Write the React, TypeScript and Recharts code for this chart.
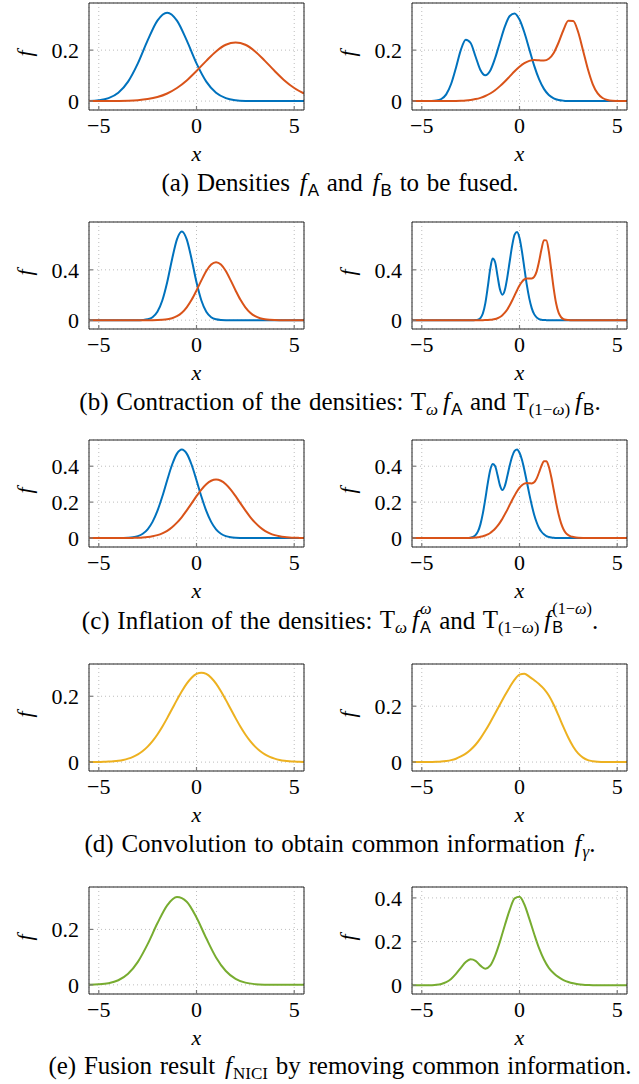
import { LineChart, Line, XAxis, YAxis, CartesianGrid } from "recharts";

// x grids
const xWide = [-5.5, -5, -4.5, -4, -3.5, -3, -2.5, -2, -1.5, -1, -0.5, 0, 0.5, 1, 1.5, 2, 2.5, 3, 3.5, 4, 4.5, 5, 5.5];
const xFine = [
  -5.5, -5.25, -5, -4.75, -4.5, -4.25, -4, -3.75, -3.5, -3.25, -3, -2.75, -2.5, -2.25, -2, -1.75, -1.5, -1.25, -1, -0.75,
  -0.5, -0.25, 0, 0.25, 0.5, 0.75, 1, 1.25, 1.5, 1.75, 2, 2.25, 2.5, 2.75, 3, 3.25, 3.5, 3.75, 4, 4.25, 4.5, 4.75, 5,
  5.25, 5.5,
];
const xNarrow = [
  -5.5, -5, -4.5, -4, -3.5, -3, -2.75, -2.625, -2.5, -2.375, -2.25, -2.125, -2, -1.875, -1.75, -1.625, -1.5, -1.375,
  -1.25, -1.125, -1, -0.875, -0.75, -0.625, -0.5, -0.375, -0.25, -0.125, 0, 0.125, 0.25, 0.375, 0.5, 0.625, 0.75, 0.875,
  1, 1.125, 1.25, 1.375, 1.5, 1.625, 1.75, 1.875, 2, 2.125, 2.25, 2.375, 2.5, 2.625, 2.75, 3, 3.5, 4, 4.5, 5, 5.5,
];
const xTicks = [-5, 0, 5];

// (a) densities to be fused
const aLeftA = [0.0008, 0.0034, 0.0116, 0.0327, 0.0765, 0.148, 0.238, 0.316, 0.347, 0.316, 0.238, 0.148, 0.0765, 0.0327, 0.0116, 0.0034, 0.0008, 0.0002, 0, 0, 0, 0, 0];
const aLeftB = [0, 0.0001, 0.0002, 0.0006, 0.0015, 0.0035, 0.0078, 0.0159, 0.0298, 0.0513, 0.081, 0.118, 0.158, 0.195, 0.221, 0.23, 0.221, 0.195, 0.158, 0.118, 0.081, 0.0513, 0.0298];
const aRightA = [
  0, 0, 0, 0.0001, 0.0004, 0.002, 0.0082, 0.0265, 0.067, 0.131, 0.201, 0.241, 0.228, 0.175, 0.122, 0.101, 0.119, 0.168,
  0.231, 0.292, 0.334, 0.344, 0.32, 0.269, 0.204, 0.139, 0.086, 0.048, 0.024, 0.011, 0.0045, 0.0017, 0.0006, 0.0002, 0,
  0, 0, 0, 0, 0, 0, 0, 0, 0, 0,
];
const aRightB = [
  0, 0, 0, 0, 0, 0, 0.0001, 0.0002, 0.0003, 0.0007, 0.0014, 0.0026, 0.0046, 0.0078, 0.0127, 0.0199, 0.0298, 0.0427,
  0.0587, 0.0771, 0.097, 0.117, 0.135, 0.149, 0.158, 0.161, 0.16, 0.159, 0.166, 0.189, 0.23, 0.279, 0.315, 0.314, 0.271,
  0.199, 0.125, 0.066, 0.03, 0.012, 0.0042, 0.0013, 0.0005, 0.0002, 0.0001,
];

// (b) contraction
const bLeftA = [
  0, 0, 0, 0, 0, 0, 0, 0, 0, 0, 0, 0.0016, 0.0069, 0.0236, 0.0665, 0.156, 0.301, 0.484, 0.642, 0.705, 0.642, 0.484,
  0.301, 0.156, 0.0665, 0.0236, 0.0069, 0.0016, 0.0003, 0, 0, 0, 0, 0, 0, 0, 0, 0, 0, 0, 0, 0, 0, 0, 0,
];
const bLeftB = [
  0, 0, 0, 0, 0, 0, 0, 0, 0, 0, 0, 0, 0.0001, 0.0004, 0.0012, 0.003, 0.007, 0.0156, 0.0318, 0.0596, 0.1026, 0.162, 0.236,
  0.316, 0.39, 0.442, 0.46, 0.442, 0.39, 0.316, 0.236, 0.162, 0.1026, 0.0596, 0.0318, 0.0156, 0.007, 0.003, 0.0012,
  0.0004, 0.0001, 0, 0, 0, 0,
];
const bRightA = [
  0, 0, 0, 0, 0, 0,
  0, 0, 0, 0.0002, 0.0008, 0.004, 0.0164, 0.053, 0.134, 0.262, 0.405, 0.49, 0.462, 0.352, 0.245, 0.203, 0.24, 0.34,
  0.468, 0.592, 0.68, 0.7, 0.652, 0.546, 0.412, 0.28, 0.173, 0.096, 0.048, 0.022, 0.009, 0.0034, 0.0012, 0.0004, 0, 0, 0,
  0, 0, 0, 0, 0, 0, 0, 0,
  0, 0, 0, 0, 0, 0,
];
const bRightB = [
  0, 0, 0, 0, 0, 0,
  0, 0, 0, 0, 0, 0, 0.0002, 0.0004, 0.0006, 0.0014, 0.0028, 0.0052, 0.0092, 0.0156, 0.0254, 0.0398, 0.0596, 0.0854,
  0.118, 0.156, 0.197, 0.238, 0.276, 0.305, 0.324, 0.332, 0.332, 0.332, 0.344, 0.386, 0.466, 0.563, 0.636, 0.634, 0.546,
  0.4, 0.251, 0.132, 0.06, 0.024, 0.0084, 0.0026, 0.001, 0.0004, 0.0002,
  0, 0, 0, 0, 0, 0,
];

// (c) inflation
const cLeftA = [
  0, 0, 0, 0, 0, 0, 0.0001, 0.0005, 0.0016, 0.0043, 0.0107, 0.0239, 0.0486, 0.0899, 0.151, 0.231, 0.322, 0.408, 0.47,
  0.493, 0.47, 0.408, 0.322, 0.231, 0.151, 0.0899, 0.0486, 0.0239, 0.0107, 0.0043, 0.0016, 0.0005, 0.0001, 0, 0, 0, 0, 0,
  0, 0, 0, 0, 0, 0, 0,
];
const cLeftB = [
  0, 0, 0, 0, 0, 0, 0.0001, 0.0002, 0.0004, 0.0008, 0.0015, 0.003, 0.0054, 0.0096, 0.0161, 0.026, 0.0403, 0.06, 0.0856,
  0.117, 0.154, 0.193, 0.233, 0.27, 0.3, 0.319, 0.326, 0.319, 0.3, 0.27, 0.233, 0.193, 0.154, 0.117, 0.0856, 0.06, 0.0403,
  0.026, 0.0161, 0.0096, 0.0054, 0.003, 0.0015, 0.0008, 0.0004,
];
const cRightA = [
  0, 0, 0, 0, 0, 0,
  0, 0.0006, 0.002, 0.006, 0.016, 0.037, 0.076, 0.137, 0.217, 0.304, 0.377, 0.412, 0.401, 0.351, 0.293, 0.267, 0.29,
  0.344, 0.404, 0.454, 0.485, 0.493, 0.475, 0.436, 0.379, 0.313, 0.246, 0.184, 0.13, 0.088, 0.056, 0.035, 0.021, 0.011,
  0.006, 0.003, 0.001, 0, 0, 0, 0, 0, 0, 0, 0,
  0, 0, 0, 0, 0, 0,
];
const cRightB = [
  0, 0, 0, 0, 0, 0,
  0.0004, 0.0007, 0.001, 0.002, 0.003, 0.004, 0.007, 0.01, 0.014, 0.02, 0.028, 0.039, 0.052, 0.067, 0.086, 0.107, 0.132,
  0.157, 0.185, 0.212, 0.237, 0.261, 0.28, 0.294, 0.303, 0.306, 0.305, 0.304, 0.31, 0.331, 0.365, 0.402, 0.428, 0.427,
  0.397, 0.34, 0.269, 0.196, 0.132, 0.083, 0.049, 0.027, 0.016, 0.009, 0.006,
  0.002, 0, 0, 0, 0, 0,
];

// (d) common information
const dLeft = [
  0.0001, 0.0002, 0.0005, 0.0008, 0.0015, 0.0025, 0.0041, 0.0067, 0.0105, 0.0159, 0.0235, 0.0338, 0.0471, 0.0638, 0.084,
  0.1075, 0.1336, 0.1613, 0.189, 0.2154, 0.2384, 0.2563, 0.2677, 0.2716, 0.2677, 0.2563, 0.2384, 0.2154, 0.189, 0.1613,
  0.1336, 0.1075, 0.084, 0.0638, 0.0471, 0.0338, 0.0235, 0.0159, 0.0105, 0.0067, 0.0041, 0.0025, 0.0015, 0.0008, 0.0005,
];
const dRight = [
  0, 0, 0, 0.0002, 0.0005, 0.001, 0.002, 0.004, 0.007, 0.012, 0.02, 0.03, 0.044, 0.062, 0.085, 0.112, 0.142, 0.174,
  0.206, 0.238, 0.268, 0.295, 0.313, 0.316, 0.306, 0.293, 0.279, 0.262, 0.238, 0.205, 0.166, 0.125, 0.087, 0.055, 0.031,
  0.016, 0.007, 0.003, 0.001, 0.0004, 0, 0, 0, 0, 0,
];

// (e) fusion result
const eLeft = [0.0005, 0.0018, 0.0059, 0.0166, 0.04, 0.083, 0.147, 0.222, 0.287, 0.317, 0.3, 0.243, 0.168, 0.099, 0.05, 0.0216, 0.008, 0.0025, 0.0007, 0.0002, 0, 0, 0];
const eRight = [
  0, 0, 0, 0, 0.0005, 0.002, 0.006, 0.014, 0.029, 0.052, 0.08, 0.106, 0.119, 0.112, 0.09, 0.076, 0.09, 0.135, 0.2, 0.275,
  0.345, 0.398, 0.405, 0.37, 0.305, 0.235, 0.17, 0.118, 0.08, 0.055, 0.037, 0.024, 0.015, 0.009, 0.005, 0.0025, 0.001, 0,
  0, 0, 0, 0, 0, 0, 0,
];

const BLUE = "#0072bd";
const ORANGE = "#d95319";
const YELLOW = "#edb120";
const GREEN = "#77ac30";

const SERIF = '"Liberation Serif", "Times New Roman", serif';
const SANS = '"Liberation Sans", Arial, sans-serif';
const AXIS_FONT = 22;

function zip(xs: number[], a: number[], b?: number[]) {
  return xs.map((x, i) => (b ? { x, a: a[i], b: b[i] } : { x, a: a[i] }));
}

const fmt = (v: number) => (v < 0 ? `\u2212${-v}` : `${v}`);

function XLetter(props: any) {
  const vb = props.viewBox || {};
  return (
    <text x={vb.x + vb.width / 2} y={vb.y + 51} textAnchor="middle" fontStyle="italic" fontFamily={SERIF} fontSize={AXIS_FONT} fill="#000">
      x
    </text>
  );
}

function YLetter(props: any) {
  const vb = props.viewBox || {};
  const cx = vb.x + vb.width - 65;
  const cy = vb.y + vb.height / 2 - 3;
  return (
    <text x={cx} y={cy} transform={`rotate(-90 ${cx} ${cy})`} textAnchor="middle" dominantBaseline="central" fontStyle="italic" fontFamily={SERIF} fontSize={AXIS_FONT} fill="#000">
      f
    </text>
  );
}

const tickStyle = { fill: "#000", fontSize: AXIS_FONT, fontFamily: SERIF };
const tickLine = { stroke: "#7a7a7a", strokeWidth: 1.2 };
const axisLine = { stroke: "#222", strokeWidth: 1 };

function Panel({ left, top, data, yDomain, yTicks, colors }: any) {
  return (
    <div style={{ position: "absolute", left, top: top - 10 }}>
      <LineChart width={320} height={177} data={data} margin={{ top: 5, right: 10, bottom: 0, left: 39 }} style={{ fontFamily: SERIF }}>
        <CartesianGrid stroke="#bdbdbd" strokeDasharray="1 3" />
        <XAxis dataKey="x" type="number" domain={[-5.5, 5.5]} ticks={xTicks} interval={0} allowDataOverflow height={60}
          tickSize={-4} tickMargin={11.5} tickLine={tickLine} axisLine={axisLine} tick={tickStyle} tickFormatter={fmt} label={<XLetter />} />
        <XAxis xAxisId="top" orientation="top" dataKey="x" type="number" domain={[-5.5, 5.5]} ticks={xTicks} interval={0}
          allowDataOverflow height={5} tickSize={-4} tick={false} tickLine={tickLine} axisLine={axisLine} />
        <YAxis type="number" domain={yDomain} ticks={yTicks} interval={0} allowDataOverflow width={50} tickSize={-4}
          tickMargin={14} tickLine={tickLine} axisLine={axisLine} tick={tickStyle} tickFormatter={fmt} label={<YLetter />} />
        <YAxis yAxisId="right" orientation="right" type="number" domain={yDomain} ticks={yTicks} interval={0}
          allowDataOverflow width={6} tickSize={-4} tick={false} tickLine={tickLine} axisLine={axisLine} />
        {colors.map((c: string, i: number) => (
          <Line key={i} dataKey={i === 0 ? "a" : "b"} type="monotone" stroke={c} strokeWidth={2} dot={false} isAnimationActive={false} />
        ))}
      </LineChart>
    </div>
  );
}

// f with a subscript, and optionally a superscript stacked above it
function F({ sub, sup, sans = true }: any) {
  const fam = sans ? SANS : SERIF;
  if (!sup) {
    return (
      <span style={{ marginLeft: 2 }}>
        <i>f</i>
        <span style={{ position: "relative", top: 5, marginLeft: 1, fontSize: "0.68em", fontFamily: fam }}>{sub}</span>
      </span>
    );
  }
  return (
    <span style={{ marginLeft: 2 }}>
      <i>f</i>
      <span style={{ display: "inline-block", position: "relative", top: 5, marginLeft: 1, fontSize: "0.65em", lineHeight: "18.5px", textAlign: "left" }}>
        <span style={{ display: "block" }}>{sup}</span>
        <span style={{ display: "block", fontFamily: fam }}>{sub}</span>
      </span>
    </span>
  );
}

function T({ sub }: any) {
  return (
    <span>
      T<span style={{ position: "relative", top: 5, fontSize: "0.68em", marginRight: 3 }}>{sub}</span>
    </span>
  );
}

const CAP_FONT = 25;
const CAP_LINE = 50;
// distance from the top of the line box to the baseline (Liberation Serif metrics)
const CAP_BASE = (CAP_LINE - 1.107 * CAP_FONT) / 2 + 0.891 * CAP_FONT;

const captionStyle: any = {
  position: "absolute",
  left: 0,
  width: 680,
  textAlign: "center",
  fontFamily: SERIF,
  fontSize: CAP_FONT,
  lineHeight: `${CAP_LINE}px`,
  wordSpacing: 1.5,
  color: "#000",
  whiteSpace: "nowrap",
};

const rowTops = [3, 222, 440, 664, 887];
const captionBase = [191, 410, 628, 852, 1074];

export default function App() {
  const cap = (i: number) => ({ ...captionStyle, top: captionBase[i] - CAP_BASE });
  return (
    <div style={{ position: "absolute", left: 0, top: 0, width: 639, height: 1084, background: "#fff", overflow: "hidden" }}>
      <Panel left={0} top={rowTops[0]} data={zip(xWide, aLeftA, aLeftB)} yDomain={[-0.035, 0.385]} yTicks={[0, 0.2]} colors={[BLUE, ORANGE]} />
      <Panel left={323} top={rowTops[0]} data={zip(xFine, aRightA, aRightB)} yDomain={[-0.035, 0.385]} yTicks={[0, 0.2]} colors={[BLUE, ORANGE]} />
      <div style={cap(0)}>
        (a) Densities <F sub="A" /> and <F sub="B" /> to be fused.
      </div>

      <Panel left={0} top={rowTops[1]} data={zip(xFine, bLeftA, bLeftB)} yDomain={[-0.07, 0.78]} yTicks={[0, 0.4]} colors={[BLUE, ORANGE]} />
      <Panel left={323} top={rowTops[1]} data={zip(xNarrow, bRightA, bRightB)} yDomain={[-0.07, 0.78]} yTicks={[0, 0.4]} colors={[BLUE, ORANGE]} />
      <div style={cap(1)}>
        (b) Contraction of the densities: <T sub={<i>ω</i>} /><F sub="A" /> and <T sub={<>(1−<i>ω</i>)</>} /><F sub="B" />.
      </div>

      <Panel left={0} top={rowTops[2]} data={zip(xFine, cLeftA, cLeftB)} yDomain={[-0.05, 0.546]} yTicks={[0, 0.2, 0.4]} colors={[BLUE, ORANGE]} />
      <Panel left={323} top={rowTops[2]} data={zip(xNarrow, cRightA, cRightB)} yDomain={[-0.05, 0.546]} yTicks={[0, 0.2, 0.4]} colors={[BLUE, ORANGE]} />
      <div style={cap(2)}>
        (c) Inflation of the densities: <T sub={<i>ω</i>} /><F sub="A" sup={<i>ω</i>} /> and <T sub={<>(1−<i>ω</i>)</>} /><F sub="B" sup={<>(1−<i>ω</i>)</>} />.
      </div>

      <Panel left={0} top={rowTops[3]} data={zip(xFine, dLeft)} yDomain={[-0.027, 0.298]} yTicks={[0, 0.2]} colors={[YELLOW]} />
      <Panel left={323} top={rowTops[3]} data={zip(xFine, dRight)} yDomain={[-0.032, 0.351]} yTicks={[0, 0.2]} colors={[YELLOW]} />
      <div style={cap(3)}>
        (d) Convolution to obtain common information <F sub={<i>γ</i>} sans={false} />.
      </div>

      <Panel left={0} top={rowTops[4]} data={zip(xWide, eLeft)} yDomain={[-0.033, 0.353]} yTicks={[0, 0.2]} colors={[GREEN]} />
      <Panel left={323} top={rowTops[4]} data={zip(xFine, eRight)} yDomain={[-0.04, 0.45]} yTicks={[0, 0.2, 0.4]} colors={[GREEN]} />
      <div style={cap(4)}>
        (e) Fusion result <F sub="NICI" sans={false} /> by removing common information.
      </div>
    </div>
  );
}
